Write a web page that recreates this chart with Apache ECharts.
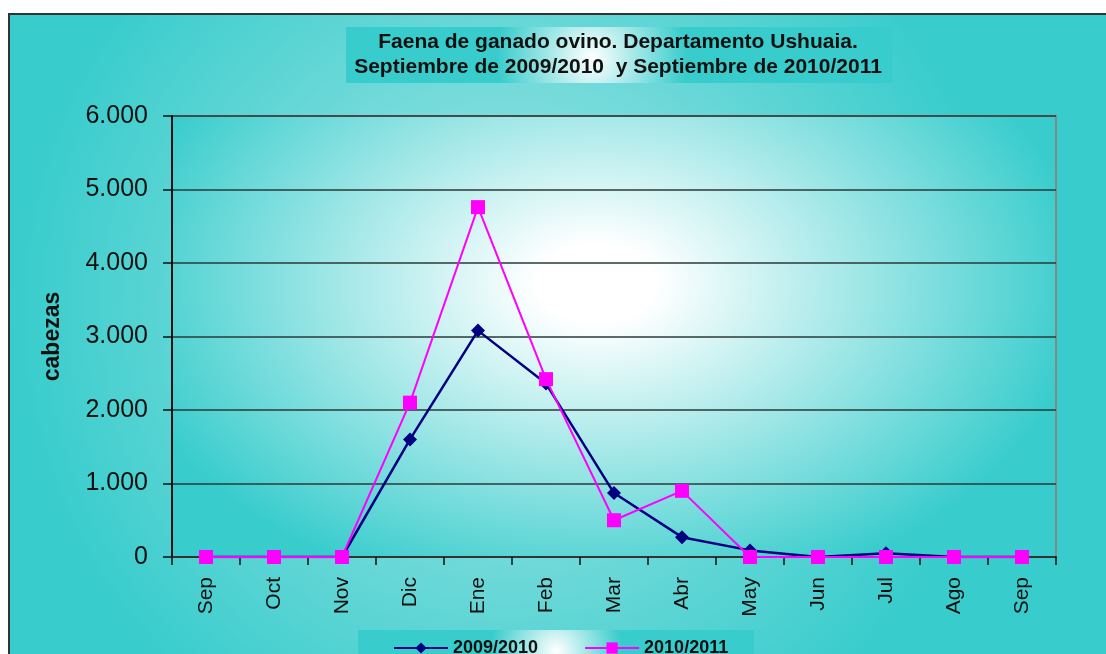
<!DOCTYPE html>
<html>
<head>
<meta charset="utf-8">
<script src="https://cdn.jsdelivr.net/npm/echarts@6/dist/echarts.min.js"></script>
<style>
  html, body { margin: 0; padding: 0; background: #fff; }
  #main { width: 1106px; height: 654px; }
</style>
</head>
<body>
<div id="main"></div>
<script>
// meses de septiembre a septiembre
const months = ['Sep', 'Oct', 'Nov', 'Dic', 'Ene', 'Feb', 'Mar', 'Abr', 'May', 'Jun', 'Jul', 'Ago', 'Sep']
const season0910 = [0, 0, 0, 1600, 3080, 2360, 870, 270, 90, 0, 50, 0, 0]
const season1011 = [0, 0, 0, 2100, 4760, 2420, 500, 900, 0, 0, 0, 0, 0]
const yTicks = [0, 1000, 2000, 3000, 4000, 5000, 6000]

const teal = '#38cccc'

function glow(x, y, r, inner, core) {
  return {
    type: 'radial', x: x, y: y, r: r,
    colorStops: [
      { offset: 0, color: inner || '#ffffff' },
      { offset: core || 0, color: inner || '#ffffff' },
      { offset: 1, color: teal }
    ]
  }
}

const chart = echarts.init(document.getElementById('main'), null, { renderer: 'canvas' })

// el fondo del area de trazado es eliptico: rect estirado con scaleX
const stretch = 1.5
const plot = { x: 172, y: 116, w: 884, h: 441 }

chart.setOption({
  backgroundColor: '#ffffff',
  animation: false,
  textStyle: { fontFamily: 'Liberation Sans, Arial, sans-serif' },
  graphic: [
    {
      type: 'rect', z: -10, silent: true,
      shape: { x: 9, y: 14, width: 1110, height: 660 },
      style: { fill: glow(0.45, 0.45, 0.75, '#a8e6e6'), stroke: '#333', lineWidth: 2 }
    },
    {
      type: 'rect', z: -8, silent: true,
      x: plot.x, y: plot.y, scaleX: stretch,
      shape: { x: 0, y: 0, width: plot.w / stretch, height: plot.h },
      style: { fill: glow(0.48, 0.38, 0.74, '#ffffff', 0.12) }
    },
    {
      type: 'rect', z: -5, silent: true,
      shape: { x: 346, y: 27, width: 546, height: 56 },
      style: { fill: glow(0.45, 0.55, 1.7) }
    },
    {
      type: 'rect', z: -5, silent: true,
      shape: { x: 358, y: 630, width: 396, height: 30 },
      style: { fill: glow(0.5, 0.7, 2.2) }
    },
    {
      type: 'text', x: 618, y: 30,
      style: {
        text: 'Faena de ganado ovino. Departamento Ushuaia.\nSeptiembre de 2009/2010  y Septiembre de 2010/2011',
        textAlign: 'center',
        font: 'bold 21px Liberation Sans, Arial, sans-serif',
        lineHeight: 25, fill: '#111'
      }
    }
  ],
  legend: {
    left: 388, top: 634,
    itemWidth: 54, itemHeight: 14, itemGap: 46,
    textStyle: { fontSize: 18, fontWeight: 'bold', color: '#111' },
    data: ['2009/2010', '2010/2011']
  },
  grid: {
    left: plot.x, right: 1106 - plot.x - plot.w, top: plot.y, bottom: 654 - plot.y - plot.h,
    show: true,
    borderColor: '#888', borderWidth: 2,
    backgroundColor: 'transparent'
  },
  xAxis: {
    type: 'category',
    data: months,
    boundaryGap: true,
    axisLine: { lineStyle: { color: '#333', width: 2 } },
    axisTick: { show: true, length: 8, lineStyle: { color: '#111', width: 1.5 } },
    axisLabel: { rotate: 90, fontSize: 21, color: '#111', margin: 20 }
  },
  yAxis: {
    type: 'value',
    min: yTicks[0], max: yTicks[yTicks.length - 1], interval: 1000,
    name: 'cabezas',
    nameLocation: 'middle', nameGap: 108, nameRotate: 90,
    nameTextStyle: { fontSize: 23, fontWeight: 'bold', color: '#111' },
    axisLine: { show: true, lineStyle: { color: '#111', width: 2 } },
    axisTick: { show: true, length: 9, lineStyle: { color: '#111', width: 1.5 } },
    splitLine: { lineStyle: { color: '#2a3a3a', width: 1.5 } },
    axisLabel: {
      fontSize: 25, color: '#111', margin: 24,
      formatter: v => v === 0 ? '0' : (v / 1000) + '.000'
    }
  },
  series: [
    {
      name: '2009/2010', type: 'line', data: season0910,
      symbol: 'diamond', symbolSize: 14,
      itemStyle: { color: '#000080' },
      lineStyle: { color: '#000080', width: 2.5 },
      z: 3
    },
    {
      name: '2010/2011', type: 'line', data: season1011,
      symbol: 'rect', symbolSize: 14,
      itemStyle: { color: '#ff00ff' },
      lineStyle: { color: '#ff00ff', width: 2 },
      z: 4
    }
  ]
})
</script>
</body>
</html>
